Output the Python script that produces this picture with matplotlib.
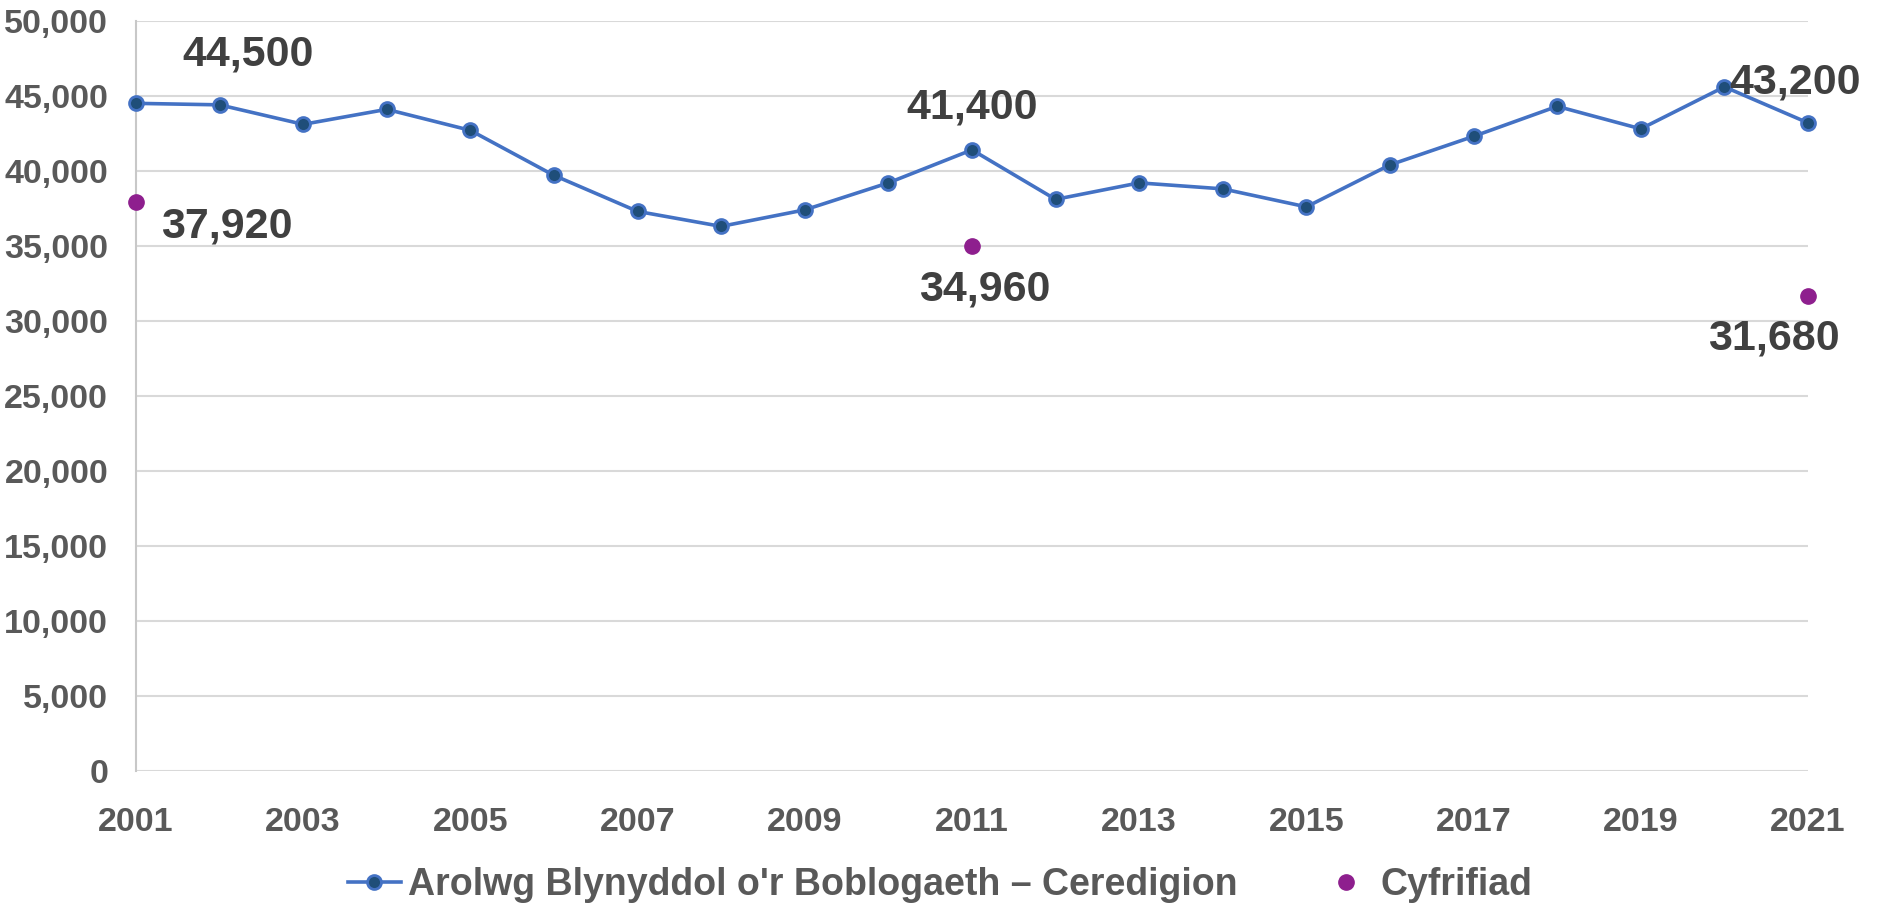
import matplotlib
matplotlib.use("Agg")
import matplotlib.pyplot as plt
from matplotlib.ticker import FuncFormatter

plt.rcParams['font.family'] = ['Liberation Sans', 'DejaVu Sans']
plt.rcParams['font.weight'] = 'bold'

# Arolwg Blynyddol o'r Boblogaeth - Ceredigion
years = list(range(2001, 2022))
aps = [44500, 44400, 43100, 44100, 42700, 39700, 37300, 36300, 37400, 39200,
       41400, 38100, 39200, 38800, 37600, 40400, 42300, 44300, 42800, 45600,
       43200]

# Cyfrifiad
census_years = [2001, 2011, 2021]
census = [37920, 34960, 31680]

# labels: (year, value, text, dx px, dy px)
labels = [
    (2001, 44500, "44,500", 112, 49),
    (2001, 37920, "37,920", 91, -24),
    (2011, 41400, "41,400", 0, 42),
    (2011, 34960, "34,960", 13, -43),
    (2021, 43200, "43,200", -13, 40),
    (2021, 31680, "31,680", -34, -43),
]

line_col = '#4472C4'
marker_col = '#1F4E79'
census_col = '#8E1F8E'
tick_col = '#595959'
lab_col = '#404040'

fig = plt.figure(figsize=(18.8, 9.05), dpi=100)
ax = fig.add_axes([0.0723, 0.148, 0.8894, 0.829])

ax.plot(years, aps, color=line_col, lw=2.6, marker='o', markersize=10,
        markerfacecolor=marker_col, markeredgecolor=line_col, markeredgewidth=2,
        label="Arolwg Blynyddol o'r Boblogaeth \u2013 Ceredigion", zorder=3, clip_on=False)
ax.plot(census_years, census, ls='none', marker='o', markersize=11,
        color=census_col, label='Cyfrifiad', zorder=3, clip_on=False)

for x, y, txt, dx, dy in labels:
    ax.annotate(txt, (x, y), xytext=(dx, dy), textcoords='offset pixels',
                ha='center', va='center', fontsize=31, fontweight='bold',
                color=lab_col)

ax.set_xlim(2001, 2021)
ax.set_ylim(0, 50000)
ax.set_xticks(range(2001, 2022, 2))
ax.set_yticks(range(0, 50001, 5000))
ax.yaxis.set_major_formatter(FuncFormatter(lambda v, p: f"{int(v):,}"))
ax.tick_params(axis='both', length=0, labelsize=24.5, colors=tick_col)
ax.tick_params(axis='y', pad=20)
ax.tick_params(axis='x', pad=26)
for t in ax.get_xticklabels() + ax.get_yticklabels():
    t.set_fontweight('bold')

ax.grid(axis='y', color='#D9D9D9', lw=1.5)
ax.set_axisbelow(True)
for s in ['top', 'right', 'bottom']:
    ax.spines[s].set_visible(False)
ax.spines['left'].set_color('#C8C8C8')
ax.spines['left'].set_linewidth(1.5)

leg = fig.legend(loc='center', bbox_to_anchor=(0.5, 0.022), ncol=2, frameon=False,
                 prop={'size': 27, 'weight': 'bold'}, columnspacing=2.2,
                 handlelength=1.4, handletextpad=0.2)
for t in leg.get_texts():
    t.set_color(tick_col)

fig.savefig('out.png', dpi=100)
